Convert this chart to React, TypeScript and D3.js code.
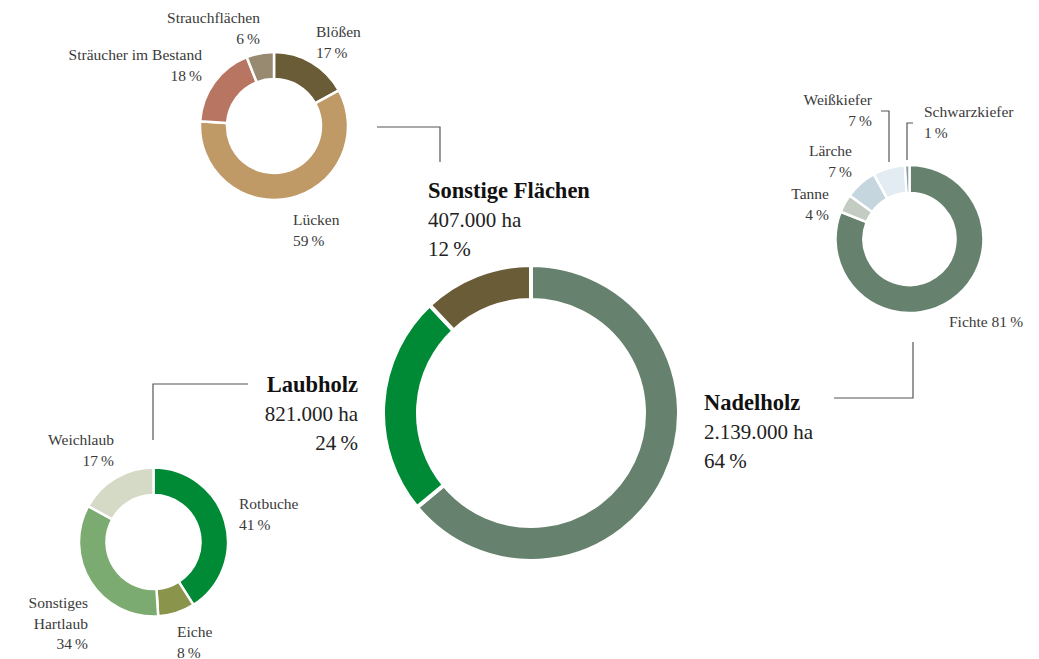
import React from "react";
import * as d3 from "d3";

// main split of the forest area
const mainNames = ["Nadelholz", "Laubholz", "Sonstige Flächen"];
const mainShares = [64, 24, 12];
const mainAreas = ["2.139.000 ha", "821.000 ha", "407.000 ha"];

// breakdown of the three groups
const sonstigeNames = ["Blößen", "Lücken", "Sträucher im Bestand", "Strauchflächen"];
const sonstigeShares = [17, 59, 18, 6];

const nadelNames = ["Fichte", "Tanne", "Lärche", "Weißkiefer", "Schwarzkiefer"];
const nadelShares = [81, 4, 7, 7, 1];

const laubNames = ["Rotbuche", "Eiche", "Sonstiges Hartlaub", "Weichlaub"];
const laubShares = [41, 8, 34, 17];

const W = 1039;
const H = 659;
const FONT = "'Liberation Serif', 'DejaVu Serif', serif";
const TEXT = "#3a3a3a";
const LINE = "#555";

const COLORS = {
  main: ["#66826e", "#008a36", "#6b5c38"],
  sonstige: ["#6b5c38", "#bf9966", "#b87561", "#988a70"],
  nadel: ["#66826e", "#c3ccc1", "#c6d6de", "#e2ecf2", "#8c9aa4"],
  laub: ["#008a36", "#8a944a", "#7bab70", "#d5dac6"],
};

type Label = { lines: string[]; x: number; y: number; anchor: string };

// label placement per slice (layout only); "%" lines get the share
const sonstigeLabels: Label[] = [
  { lines: [sonstigeNames[0], "%"], x: 316, y: 37, anchor: "start" },
  { lines: [sonstigeNames[1], "%"], x: 293, y: 225, anchor: "start" },
  { lines: [sonstigeNames[2], "%"], x: 202, y: 60, anchor: "end" },
  { lines: [sonstigeNames[3], "%"], x: 260, y: 23, anchor: "end" },
];
const nadelLabels: Label[] = [
  { lines: [nadelNames[0] + " %"], x: 949, y: 327, anchor: "start" },
  { lines: [nadelNames[1], "%"], x: 829, y: 199, anchor: "end" },
  { lines: [nadelNames[2], "%"], x: 852, y: 156, anchor: "end" },
  { lines: [nadelNames[3], "%"], x: 872, y: 105, anchor: "end" },
  { lines: [nadelNames[4], "%"], x: 924, y: 117, anchor: "start" },
];
const laubLabels: Label[] = [
  { lines: [laubNames[0], "%"], x: 239, y: 509, anchor: "start" },
  { lines: [laubNames[1], "%"], x: 177, y: 637, anchor: "start" },
  { lines: ["Sonstiges", "Hartlaub", "%"], x: 88, y: 608, anchor: "end" },
  { lines: [laubNames[3], "%"], x: 114, y: 445, anchor: "end" },
];
const mainLabels = [
  { x: 704, y: 410, anchor: "start" },
  { x: 358, y: 392, anchor: "end" },
  { x: 428, y: 198, anchor: "start" },
];

// connector polylines
const connectors: [number, number][][] = [
  [[377, 127], [440, 127], [440, 162]],
  [[248, 384], [153, 384], [153, 440]],
  [[834, 398], [913, 398], [913, 342]],
  [[881, 111], [889, 111], [889, 162]],
  [[913, 123], [907, 123], [907, 160]],
];

const pie = d3.pie<number>().sort(null).value((d) => d);

function Donut({ cx, cy, r0, r1, values, colors, sw }: {
  cx: number; cy: number; r0: number; r1: number; values: number[]; colors: string[]; sw: number;
}) {
  const arc = d3.arc<d3.PieArcDatum<number>>().innerRadius(r0).outerRadius(r1);
  return (
    <g transform={`translate(${cx},${cy})`}>
      {pie(values).map((a, i) => (
        <path key={i} d={arc(a) || ""} fill={colors[i]} stroke="#fff" strokeWidth={sw} />
      ))}
    </g>
  );
}

function SmallLabels({ labels, shares }: { labels: Label[]; shares: number[] }) {
  return (
    <g fontFamily={FONT} fontSize={15.5} fill={TEXT}>
      {labels.map((l, i) => (
        <text key={i} x={l.x} y={l.y} textAnchor={l.anchor}>
          {l.lines.map((t, j) => (
            <tspan key={j} x={l.x} dy={j === 0 ? 0 : 20.5}>
              {t.endsWith("%") ? t.replace("%", `${shares[i]}\u2009%`) : t}
            </tspan>
          ))}
        </text>
      ))}
    </g>
  );
}

export default function App() {
  const line = d3.line();
  return (
    <svg width={W} height={H} style={{ position: "absolute", left: 0, top: 0, background: "#fff" }}>
      <Donut cx={531} cy={413} r0={113} r1={148} values={mainShares} colors={COLORS.main} sw={4} />
      <Donut cx={274} cy={126} r0={47} r1={74} values={sonstigeShares} colors={COLORS.sonstige} sw={2.5} />
      <Donut cx={909.5} cy={239} r0={46} r1={74} values={nadelShares} colors={COLORS.nadel} sw={2.5} />
      <Donut cx={153.5} cy={542} r0={47} r1={74.5} values={laubShares} colors={COLORS.laub} sw={2.5} />

      {connectors.map((c, i) => (
        <path key={i} d={line(c) || ""} fill="none" stroke={LINE} strokeWidth={1.2} />
      ))}

      <SmallLabels labels={sonstigeLabels} shares={sonstigeShares} />
      <SmallLabels labels={nadelLabels} shares={nadelShares} />
      <SmallLabels labels={laubLabels} shares={laubShares} />

      <g fontFamily={FONT} fill="#222">
        {mainLabels.map((l, i) => (
          <text key={i} x={l.x} y={l.y} textAnchor={l.anchor}>
            <tspan x={l.x} fontWeight="bold" fontSize={22.5} fill="#111">{mainNames[i]}</tspan>
            <tspan x={l.x} dy={29} fontSize={21}>{mainAreas[i]}</tspan>
            <tspan x={l.x} dy={29} fontSize={21}>{`${mainShares[i]}\u2009%`}</tspan>
          </text>
        ))}
      </g>
    </svg>
  );
}
